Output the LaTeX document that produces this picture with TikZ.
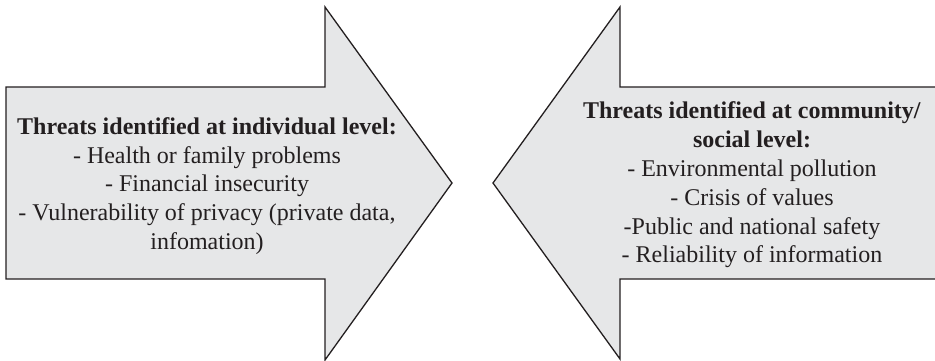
\documentclass[tikz,border=0pt]{standalone}
\usepackage{fontspec}
\setmainfont{Liberation Serif}
\definecolor{arrowfill}{HTML}{E6E7E8}
\definecolor{arrowline}{HTML}{231F20}
\tikzset{threatarrow/.style={draw=arrowline,fill=arrowfill,line width=1.3pt,line join=miter},
         threattext/.style={align=center,inner sep=0pt,text=arrowline,font=\fontsize{24}{28.8}\selectfont}}
\begin{document}
\begin{tikzpicture}[x=1pt,y=-1pt]
                    \useasboundingbox (0,0) rectangle (935,361);
                    % left arrow, pointing right
                    \draw [threatarrow] (6,87) -- (325,87) -- (325,7) -- (452,183) -- (325,360) -- (325,279) -- (6,279) -- cycle;
                    % right arrow, pointing left, cut by the page edge
                    \fill [arrowfill] (937,87) -- (620,87) -- (620,7) -- (493,183) -- (620,359) -- (620,279) -- (937,279) -- cycle;
                    \draw [threatarrow,fill=none] (937,87) -- (620,87) -- (620,7) -- (493,183) -- (620,359) -- (620,279) -- (937,279);
                    \node [threattext] (individual) at (207,186) {\textbf{Threats identified at individual level:}\\- Health or family problems\\- Financial insecurity\\- Vulnerability of privacy (private data,\\infomation)};
                    \node [threattext] (community) at (752,185) {\textbf{Threats identified at community/}\\\textbf{social level:}\\- Environmental pollution\\- Crisis of values\\-Public and national safety\\- Reliability of information};
                \end{tikzpicture}
\end{document}
